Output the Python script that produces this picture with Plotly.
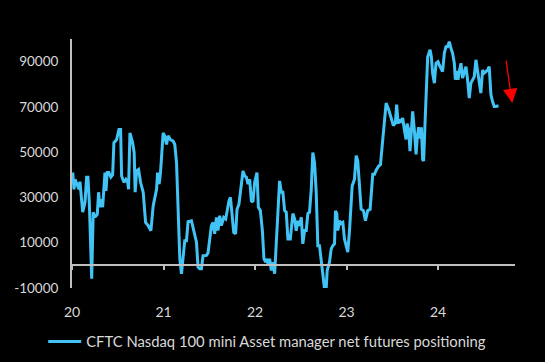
import plotly.graph_objects as go

# Decimal year positions and net positioning values (contracts)
years = [
    2020.008, 2020.022, 2020.033, 2020.055, 2020.076, 2020.087, 2020.117, 2020.142, 2020.160, 2020.174,
    2020.189, 2020.215, 2020.232, 2020.251, 2020.276, 2020.291, 2020.305, 2020.324, 2020.335, 2020.360,
    2020.371, 2020.385, 2020.403, 2020.425, 2020.444, 2020.458, 2020.487, 2020.513, 2020.531, 2020.542,
    2020.567, 2020.589, 2020.607, 2020.618, 2020.633, 2020.662, 2020.679, 2020.690, 2020.706, 2020.727,
    2020.749, 2020.778, 2020.804, 2020.832, 2020.862, 2020.887, 2020.924, 2020.935, 2020.952, 2020.967,
    2020.996, 2021.014, 2021.033, 2021.050, 2021.076, 2021.105, 2021.123, 2021.142, 2021.159, 2021.178,
    2021.196, 2021.214, 2021.232, 2021.251, 2021.268, 2021.305, 2021.341, 2021.360, 2021.377, 2021.396,
    2021.414, 2021.432, 2021.469, 2021.486, 2021.523, 2021.541, 2021.559, 2021.578, 2021.595, 2021.614,
    2021.632, 2021.658, 2021.679, 2021.715, 2021.731, 2021.752, 2021.767, 2021.788, 2021.803, 2021.824,
    2021.851, 2021.868, 2021.887, 2021.905, 2021.923, 2021.941, 2021.960, 2021.977, 2021.996, 2022.021,
    2022.036, 2022.058, 2022.080, 2022.097, 2022.116, 2022.130, 2022.145, 2022.159, 2022.178, 2022.195,
    2022.214, 2022.232, 2022.250, 2022.268, 2022.287, 2022.304, 2022.323, 2022.341, 2022.359, 2022.385,
    2022.413, 2022.432, 2022.450, 2022.468, 2022.486, 2022.505, 2022.522, 2022.541, 2022.559, 2022.577,
    2022.595, 2022.614, 2022.631, 2022.650, 2022.668, 2022.686, 2022.704, 2022.723, 2022.740, 2022.759,
    2022.777, 2022.788, 2022.813, 2022.832, 2022.850, 2022.868, 2022.879, 2022.893, 2022.904, 2022.923,
    2022.941, 2022.959, 2022.977, 2022.996, 2023.013, 2023.032, 2023.061, 2023.086, 2023.105, 2023.122,
    2023.141, 2023.159, 2023.184, 2023.206, 2023.231, 2023.257, 2023.286, 2023.305, 2023.323, 2023.351,
    2023.370, 2023.395, 2023.432, 2023.460, 2023.486, 2023.511, 2023.533, 2023.547, 2023.563, 2023.577,
    2023.595, 2023.613, 2023.631, 2023.650, 2023.661, 2023.678, 2023.693, 2023.708, 2023.722, 2023.740,
    2023.759, 2023.773, 2023.787, 2023.803, 2023.817, 2023.831, 2023.842, 2023.860, 2023.886, 2023.912,
    2023.926, 2023.940, 2023.959, 2023.977, 2023.999, 2024.013, 2024.032, 2024.049, 2024.068, 2024.086,
    2024.103, 2024.122, 2024.140, 2024.158, 2024.177, 2024.188, 2024.202, 2024.217, 2024.231, 2024.250,
    2024.267, 2024.286, 2024.304, 2024.322, 2024.340, 2024.358, 2024.376, 2024.395, 2024.413, 2024.431,
    2024.449, 2024.467, 2024.486, 2024.504, 2024.523, 2024.540, 2024.558, 2024.577, 2024.595, 2024.613,
    2024.631, 2024.660,
]
positioning = [
    41000, 33600, 38000, 36000, 33600, 37000, 23500, 27900, 38900, 38900,
    28000, -5900, 23500, 21300, 22500, 32300, 25700, 29200, 25700, 41000,
    32900, 41000, 41000, 39000, 40000, 54200, 55500, 60000, 60000, 39500,
    36700, 38000, 37000, 33600, 58500, 54200, 49900, 32300, 41800, 42400,
    36700, 32300, 19000, 17600, 15300, 26300, 33600, 41000, 35900, 41000,
    58500, 57000, 53400, 57300, 55500, 54900, 53400, 45400, 27900, 2900,
    -3700, 4300, 10900, 10900, 19300, 19700, 13100, 10200, -800, -1500,
    -1500, 4300, 4400, 5500, 17500, 19000, 13900, 21200, 15400, 21900,
    17600, 21200, 20500, 28500, 30000, 22000, 14600, 14000, 24800, 27000,
    36600, 41700, 39500, 39000, 35900, 38000, 28500, 28000, 36700, 41000,
    25600, 24200, 15400, 2900, 1400, 2900, 0, 2900, -2300, 1400,
    -3700, 8700, 21900, 37300, 32300, 32300, 24200, 23500, 11600, 11600,
    22900, 20500, 15300, 19700, 17500, 21200, 9500, 15400, 15400, 22900,
    23500, 33600, 49800, 45400, 32300, 8700, 8700, 2900, -3700, -10300,
    -10300, -2300, 1400, 7300, 8700, 9500, 24100, 22900, 15400, 19700,
    18500, 19000, 11600, 8000, 5800, 15400, 35100, 38000, 48500, 46100,
    35100, 24800, 24200, 19700, 24200, 24800, 40200, 40200, 42000, 43900,
    44500, 55600, 71700, 68800, 65100, 61800, 62800, 71000, 62600, 64400,
    63100, 65100, 60000, 55600, 62600, 60000, 50500, 60000, 68000, 60000,
    49000, 57000, 61000, 56000, 61000, 46800, 46100, 65900, 92200, 95200,
    92200, 84900, 80500, 89300, 90000, 88500, 87100, 85600, 93800, 96600,
    96600, 98800, 95900, 93800, 89300, 82000, 85900, 82000, 85600, 89300,
    82700, 85000, 87800, 82000, 73900, 80500, 82000, 83400, 90800, 86300,
    82000, 76100, 86300, 85000, 85600, 86300, 87800, 75400, 72400, 70200,
    70200, 70500,
]

x_tick_vals = [2020, 2021, 2022, 2023, 2024]
x_tick_text = ["20", "21", "22", "23", "24"]
y_tick_vals = [-10000, 10000, 30000, 50000, 70000, 90000]
y_tick_text = ["-10000", "10000", "30000", "50000", "70000", "90000"]
series_name = "CFTC Nasdaq 100 mini Asset manager net futures positioning"

x_range = [2020, 2024.84]
y_range = [-10000, 100000]

arrow_start = (2024.74, 91100)
arrow_end = (2024.81, 71700)

font_family = "Lato, 'Noto Sans', sans-serif"
text_color = "#D9D9D9"
axis_color = "#BFBFBF"

fig = go.Figure()
fig.add_trace(go.Scatter(
    x=years, y=positioning, mode="lines", name=series_name,
    line=dict(color="#41C4F5", width=3),
))
# helper trace so the zero-crossing axis renders
fig.add_trace(go.Scatter(x=[None], y=[None], xaxis="x2", yaxis="y",
                         showlegend=False, hoverinfo="skip"))

zero_pos = (0 - y_range[0]) / (y_range[1] - y_range[0])

fig.update_layout(
    width=545, height=362,
    margin=dict(l=72, r=30, t=39, b=74, autoexpand=False),
    paper_bgcolor="#000000", plot_bgcolor="#000000",
    font=dict(family=font_family, size=13, color=text_color),
    showlegend=True,
    legend=dict(orientation="h", x=-0.065, xanchor="left", y=-0.15, yanchor="top",
                itemwidth=33,
                font=dict(size=14.8, color=text_color), bgcolor="rgba(0,0,0,0)"),
    xaxis=dict(range=x_range, tickvals=x_tick_vals, ticktext=x_tick_text,
               showgrid=False, zeroline=False, showline=False, ticks="",
               ticklabelstandoff=14, automargin=False, tickfont=dict(size=14)),
    xaxis2=dict(range=x_range, overlaying="x", anchor="free", position=zero_pos,
                tickvals=x_tick_vals, showticklabels=False, showgrid=False, zeroline=False,
                showline=True, linecolor=axis_color, linewidth=2,
                ticks="outside", ticklen=4, tickwidth=2, tickcolor=axis_color,
                automargin=False),
    yaxis=dict(range=y_range, tickvals=y_tick_vals, ticktext=y_tick_text,
               showgrid=False, zeroline=False, showline=True, linecolor=axis_color,
               linewidth=2, ticks="", ticklabelstandoff=9, automargin=False,
               tickfont=dict(size=13.5)),
    annotations=[dict(
        x=arrow_end[0], y=arrow_end[1], ax=arrow_start[0], ay=arrow_start[1],
        xref="x", yref="y", axref="x", ayref="y", text="", showarrow=True,
        arrowhead=2, arrowsize=2.2, arrowwidth=1.3, arrowcolor="#FF0000",
    )],
)

fig.write_html("out.html", config={"displayModeBar": False},
               post_script="document.body.style.margin='0';")
